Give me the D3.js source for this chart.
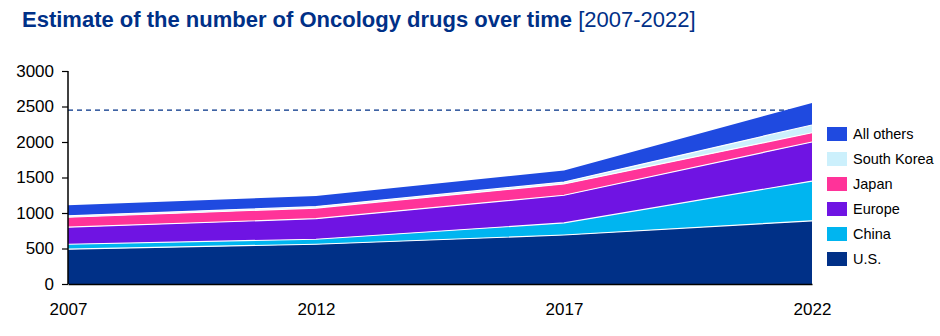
<!DOCTYPE html>
<html><head><meta charset="utf-8">
<script src="https://cdn.jsdelivr.net/npm/d3@7"></script>
<style>body{margin:0;background:#fff}svg{display:block}</style>
</head><body>
<svg id="c" width="940" height="336"></svg>
<script>
const years = [2007, 2012, 2017, 2022];
const seriesNames = ["U.S.", "China", "Europe", "Japan", "South Korea", "All others"];
const us = [490, 560, 690, 890];
const china = [70, 70, 170, 560];
const europe = [240, 290, 390, 550];
const japan = [140, 150, 160, 130];
const southKorea = [20, 20, 25, 110];
const allOthers = [150, 150, 165, 310];
const colors = ["#003087", "#00B5F0", "#6F14E3", "#FF3399", "#CCF0FC", "#1F4AE0"];
const yTicks = [0, 500, 1000, 1500, 2000, 2500, 3000];
const refLine = 2450;

const values = [us, china, europe, japan, southKorea, allOthers];
const table = years.map((y, i) => {
  const o = {year: y};
  seriesNames.forEach((n, k) => o[n] = values[k][i]);
  return o;
});

const svg = d3.select("#c");
const x = d3.scaleLinear().domain([2007, 2022]).range([68, 812]);
const y = d3.scaleLinear().domain([0, 3000]).range([284, 71]);

const stack = d3.stack().keys(seriesNames)(table);

// reference dashed line
svg.append("line")
  .attr("x1", x(2007)).attr("x2", x(2022))
  .attr("y1", y(refLine)).attr("y2", y(refLine))
  .attr("stroke", "#003087").attr("stroke-width", 1.2)
  .attr("stroke-dasharray", "5,4");

const area = d3.area().x(d => x(d.data.year)).y0(d => y(d[0])).y1(d => y(d[1]));
const topLine = d3.line().x(d => x(d.data.year)).y(d => y(d[1]));

svg.append("g").selectAll("path").data(stack).join("path")
  .attr("d", area).attr("fill", (d, i) => colors[i]);
svg.append("g").selectAll("path").data(stack.slice(0, -1)).join("path")
  .attr("d", topLine).attr("fill", "none").attr("stroke", "#fff").attr("stroke-width", 1.2);

// y axis
const yAxis = svg.append("g").attr("transform", "translate(68,0)")
  .call(d3.axisLeft(y).tickValues(yTicks).tickSize(6).tickPadding(8).tickFormat(d3.format("d")));
yAxis.select(".domain").attr("stroke", "#000").attr("stroke-width", 1.5).attr("d", `M0,${y(3000)}V${y(0)}`);
yAxis.selectAll(".tick line").attr("stroke", "#000").attr("stroke-width", 1.2);
yAxis.selectAll("text").attr("font-family", "Liberation Sans, Arial, sans-serif").attr("font-size", 17).attr("fill", "#000");

// x axis
const xAxis = svg.append("g").attr("transform", `translate(0,${y(0)})`)
  .call(d3.axisBottom(x).tickValues(years).tickSize(0).tickPadding(19).tickFormat(d3.format("d")));
xAxis.select(".domain").attr("stroke", "#000").attr("stroke-width", 1.5);
xAxis.selectAll("text").attr("font-family", "Liberation Sans, Arial, sans-serif").attr("font-size", 17).attr("fill", "#000");

// title
const t = svg.append("text").attr("x", 22).attr("y", 27)
  .attr("font-family", "Liberation Sans, Arial, sans-serif").attr("font-size", 22).attr("fill", "#003087");
t.append("tspan").attr("font-weight", "bold").text("Estimate of the number of Oncology drugs over time ");
t.append("tspan").text("[2007-2022]");

// legend
const legendOrder = seriesNames.slice().reverse();
const lg = svg.append("g").attr("transform", "translate(827,127)");
legendOrder.forEach((n, i) => {
  const g = lg.append("g").attr("transform", `translate(0,${i * 25})`);
  g.append("rect").attr("width", 20).attr("height", 14).attr("fill", colors[seriesNames.indexOf(n)]);
  g.append("text").attr("x", 26).attr("y", 12)
    .attr("font-family", "Liberation Sans, Arial, sans-serif").attr("font-size", 14.5).attr("fill", "#000").text(n);
});
</script>
</body></html>
